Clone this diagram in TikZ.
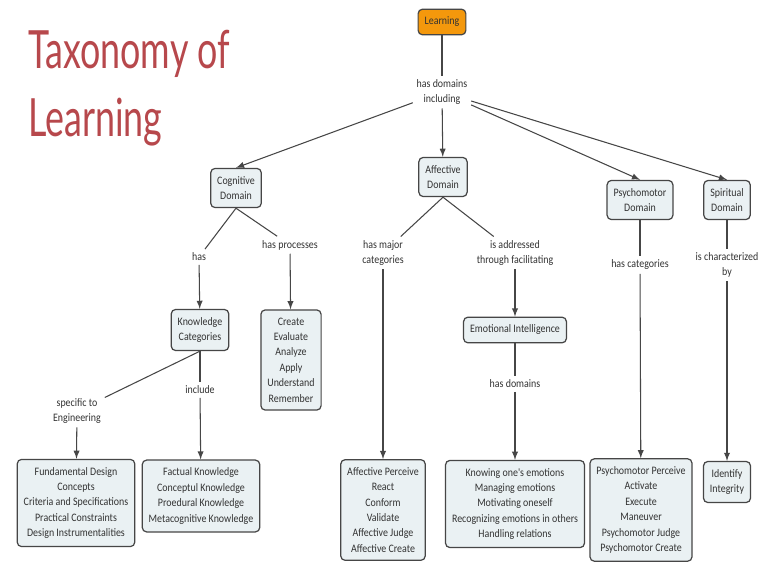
\documentclass[tikz,border=0pt]{standalone}
\usepackage{fontspec}
\usepackage{tikz}
\usetikzlibrary{arrows,shapes}
\newfontfamily\mapfont[FakeStretch=0.87]{Carlito}
\newfontfamily\titlefont[FakeStretch=0.68]{Lato}
\definecolor{titlered}{RGB}{183,72,76}
\definecolor{boxfill}{RGB}{234,241,243}
\definecolor{rootorange}{RGB}{244,152,12}
\definecolor{linegray}{RGB}{70,70,70}
\tikzstyle{concept}=[draw=linegray,fill=boxfill,rounded corners=2.5pt,line width=0.7pt,align=center,inner xsep=3.7pt,inner ysep=4.5pt,text=black!80,font=\mapfont\fontsize{6.5}{8.75}\selectfont]
\tikzstyle{root concept}=[concept,fill=rootorange]
\tikzstyle{phrase}=[align=center,inner sep=2pt,text=black!80,font=\mapfont\fontsize{6.5}{8.75}\selectfont]
\tikzstyle{link}=[draw=linegray,line width=0.6pt]
\tikzstyle{arrow}=[link,-latex]
\tikzstyle{title}=[align=left,inner sep=0pt,text=titlered,font=\titlefont\fontsize{30}{38.6}\selectfont]

\begin{document}
\begin{tikzpicture}[x=0.02cm,y=-0.02cm]
    \useasboundingbox[fill=white] (0,0) rectangle (764,571);
    \node[title,anchor=north west] (title) at (28,30) {Taxonomy of\\Learning};
    \node[root concept] (learning) at (442,22) {Learning};
    % concepts
    \foreach \pos/\name/\words in {{(236,188)/cognitive/{Cognitive\\Domain}}, {(443,177)/affective/{Affective\\Domain}},
        {(640,200)/psychomotor/{Psychomotor\\Domain}}, {(727,200)/spiritual/{Spiritual\\Domain}},
        {(200,330)/knowledge/{Knowledge\\Categories}}, {(515,330)/emotional/{Emotional Intelligence}},
        {(727,482)/identify/{Identify\\Integrity}}}
        \node[concept] (\name) at \pos {\words};
    \node[concept] (processes) at (291,360) {Create\\Evaluate\\Analyze\\Apply\\Understand\\Remember};
    \node[concept] (engineering) at (76,503) {Fundamental Design\\Concepts\\Criteria and Specifications\\Practical Constraints\\Design Instrumentalities};
    \node[concept] (factual) at (201,496) {Factual Knowledge\\Conceptul Knowledge\\Proedural Knowledge\\Metacognitive Knowledge};
    \node[concept] (affectlist) at (383,510) {Affective Perceive\\React\\Conform\\Validate\\Affective Judge\\Affective Create};
    \node[concept] (emotions) at (515,504) {Knowing one's emotions\\Managing emotions\\Motivating oneself\\Recognizing emotions in others\\Handling relations};
    \node[concept] (psycholist) at (641,510) {Psychomotor Perceive\\Activate\\Execute\\Maneuver\\Psychomotor Judge\\Psychomotor Create};
    % linking phrases
    \foreach \pos/\name/\words in {{(442,92)/lbldom/{has domains\\including}}, {(199,257)/lblhas/{has}},
        {(290,245)/lblproc/{has processes}}, {(77,411)/lblspec/{specific to\\Engineering}},
        {(200,390)/lblincl/{include}}, {(383,253)/lblmajor/{has major\\categories}},
        {(515,253)/lbladdr/{is addressed\\through facilitating}}, {(515,384)/lblhasdom/{has domains}},
        {(640,265)/lblcat/{has categories}}, {(727,265)/lblchar/{is characterized\\by}}}
        \node[phrase] (\name) at \pos {\words};
    % connectors
    \foreach \source/\dest in {learning/lbldom, cognitive.south/lblhas, cognitive.south/lblproc,
        knowledge.south/lblspec, knowledge/lblincl, affective.south/lblmajor, affective.south/lbladdr,
        emotional/lblhasdom, psychomotor/lblcat, spiritual/lblchar}
        \path[link] (\source) -- (\dest);
    \foreach \source/\dest in {lbldom/cognitive.north, lbldom/affective, lbldom/psychomotor.north,
        lbldom/spiritual.north, lblhas/knowledge, lblproc/processes, lblspec/engineering,
        lblincl/factual, lblmajor/affectlist, lbladdr/emotional, lblhasdom/emotions,
        lblcat/psycholist, lblchar/identify}
        \path[arrow] (\source) -- (\dest);
\end{tikzpicture}
\end{document}
